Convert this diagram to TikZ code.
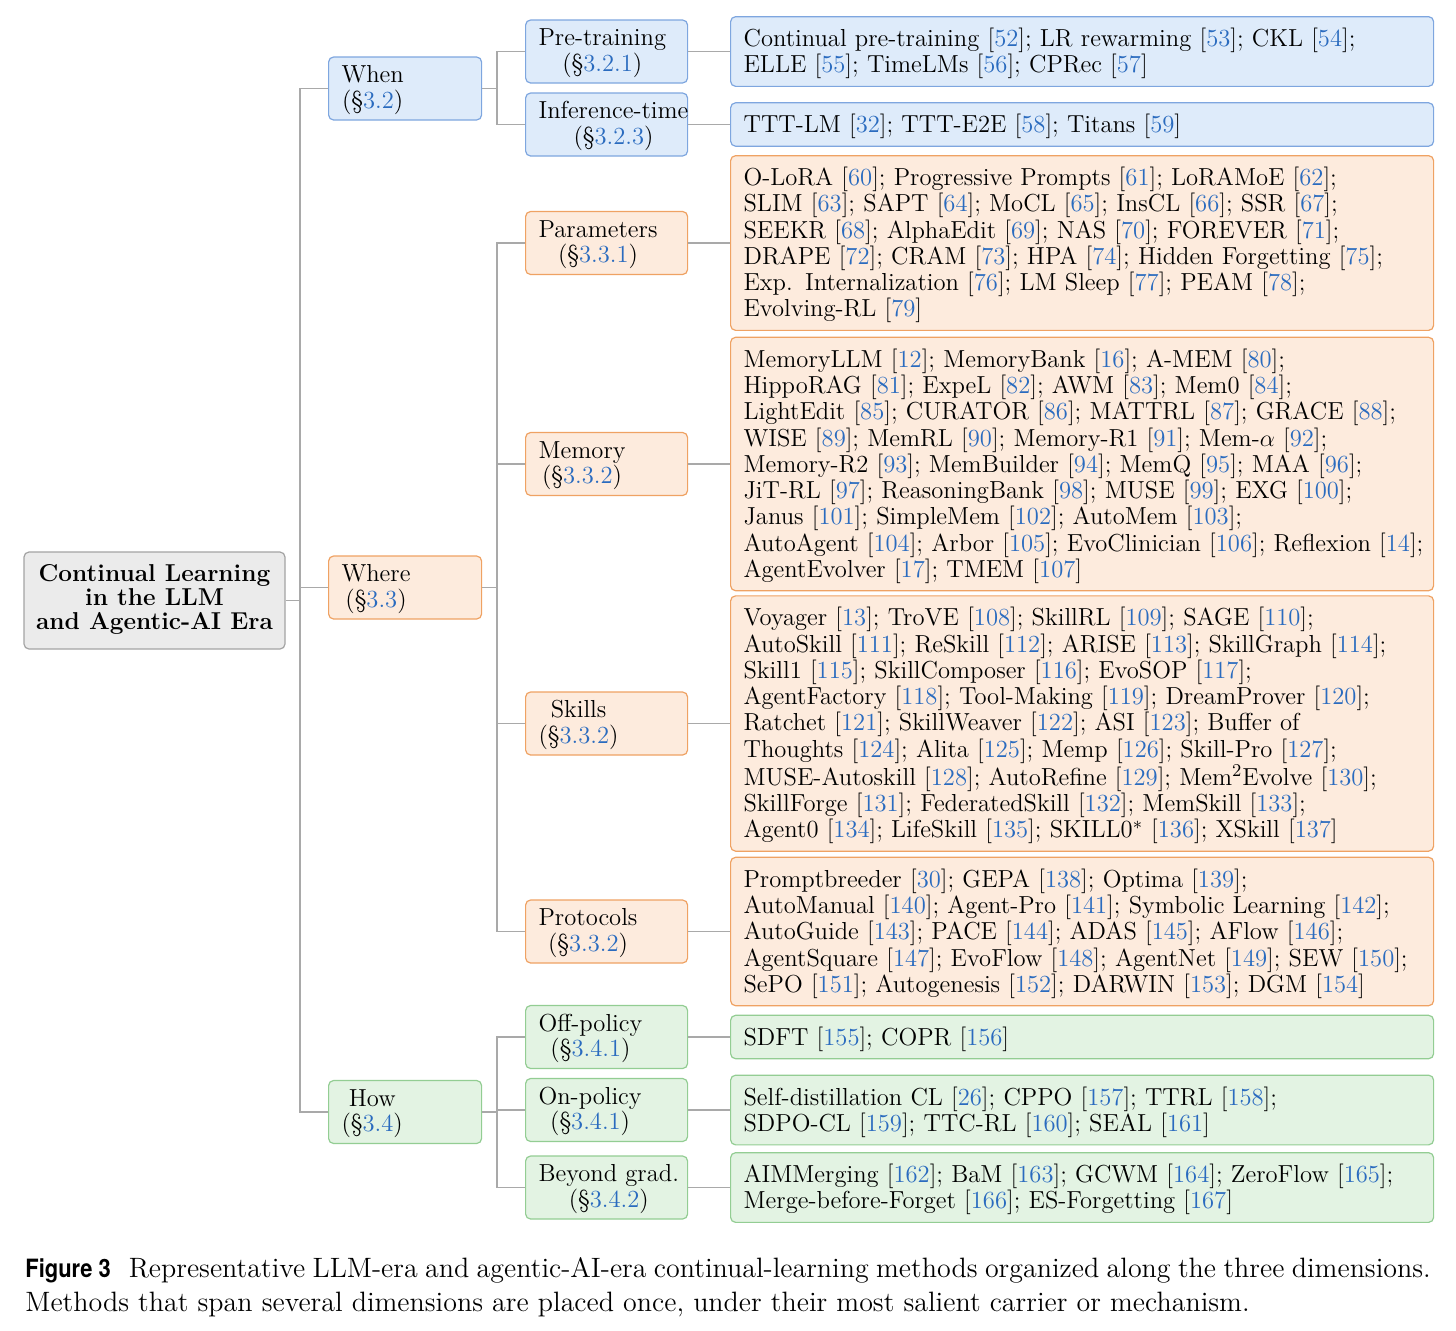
\documentclass[tikz,border=0pt]{standalone}
\usepackage{fontspec}
\newfontfamily\capsans{TeX Gyre Heros}
\definecolor{citeblue}{HTML}{2A6BBF}
\definecolor{bluefill}{HTML}{DEEBFA}
\definecolor{bluedraw}{HTML}{7EA6DF}
\definecolor{orangefill}{HTML}{FDEBDD}
\definecolor{orangedraw}{HTML}{EFA263}
\definecolor{greenfill}{HTML}{E3F3E3}
\definecolor{greendraw}{HTML}{93CD93}
\definecolor{rootfill}{HTML}{EBEBEB}
\definecolor{rootdraw}{HTML}{A3A3A3}
\definecolor{linecol}{HTML}{A9A9A9}
\newcommand{\rf}[1]{[\textcolor{citeblue}{#1}]}
\newcommand{\sr}[1]{(\S\textcolor{citeblue}{#1})}
\newcommand{\ctab}[1]{\raisebox{-1pt}[\height][\depth]{\renewcommand{\arraystretch}{0.92}\begin{tabular}{@{}c@{}}#1\end{tabular}}}
\newcommand{\ltab}[1]{\raisebox{-1.5pt}[\height][\depth]{\renewcommand{\arraystretch}{1}\begin{tabular}{@{}l@{}}#1\end{tabular}}}
\tikzset{
  box/.style={draw, rounded corners=2.5pt, line width=0.6pt, font=\fontsize{12.3}{13}\selectfont},
  rootbox/.style={box, draw=rootdraw, fill=rootfill, minimum width=130.5pt, minimum height=48.5pt, align=center, inner sep=2pt, font=\fontsize{12.2}{12}\selectfont\bfseries},
  lone/.style={box, minimum height=31.5pt, text width=63.5pt, inner xsep=6.5pt, inner ysep=1pt, align=left},
  ltwo/.style={box, minimum height=31.5pt, text width=68pt, inner xsep=6.5pt, inner ysep=1pt, align=left},
  leaf/.style={box, text width=338.5pt, inner xsep=6.5pt, inner ysep=4.3pt, align=left},
  cblue/.style={draw=bluedraw, fill=bluefill},
  corange/.style={draw=orangedraw, fill=orangefill},
  cgreen/.style={draw=greendraw, fill=greenfill},
  conn/.style={draw=linecol, line width=0.7pt},
  captext/.style={inner sep=0pt, anchor=base west, font=\fontsize{14}{17}\selectfont}
}
\begin{document}
\begin{tikzpicture}[x=0.5pt,y=-0.5pt]
\useasboundingbox (0,0) rectangle (1456,1330);

% root
\node[rootbox] (root) at (154.5,600.5) {\begin{tabular}{@{}c@{}}Continual Learning\\ in the LLM\\ and Agentic-AI Era\end{tabular}};

% level 1
\node[lone,cblue,anchor=west] (when) at (328,88.5) {\ctab{When\\ \sr{3.2}}};
\node[lone,corange,anchor=west] (where) at (328,587.5) {\ctab{Where\\ \sr{3.3}}};
\node[lone,cgreen,anchor=west] (how) at (328,1112) {\ctab{How\\ \sr{3.4}}};

% level 2
\node[ltwo,cblue,anchor=west] (pre) at (525,51.5) {\ctab{Pre-training\\ \sr{3.2.1}}};
\node[ltwo,cblue,anchor=west] (inf) at (525,124.5) {\ctab{Inference-time\\ \sr{3.2.3}}};
\node[ltwo,corange,anchor=west] (par) at (525,243) {\ctab{Parameters\\ \sr{3.3.1}}};
\node[ltwo,corange,anchor=west] (mem) at (525,464) {\ctab{Memory\\ \sr{3.3.2}}};
\node[ltwo,corange,anchor=west] (ski) at (525,723.5) {\ctab{Skills\\ \sr{3.3.2}}};
\node[ltwo,corange,anchor=west] (pro) at (525,931.5) {\ctab{Protocols\\ \sr{3.3.2}}};
\node[ltwo,cgreen,anchor=west] (off) at (525,1037) {\ctab{Off-policy\\ \sr{3.4.1}}};
\node[ltwo,cgreen,anchor=west] (onp) at (525,1110) {\ctab{On-policy\\ \sr{3.4.1}}};
\node[ltwo,cgreen,anchor=west] (bey) at (525,1187.5) {\ctab{Beyond grad.\\ \sr{3.4.2}}};

% leaves
\node[leaf,cblue,anchor=west] (preL) at (730,51.5) {\ltab{Continual pre-training \rf{52}; LR rewarming \rf{53}; CKL \rf{54};\\
ELLE \rf{55}; TimeLMs \rf{56}; CPRec \rf{57}}};
\node[leaf,cblue,anchor=west] (infL) at (730,124.5) {\ltab{TTT-LM \rf{32}; TTT-E2E \rf{58}; Titans \rf{59}}};
\node[leaf,corange,anchor=west] (parL) at (730,243) {\ltab{O-LoRA \rf{60}; Progressive Prompts \rf{61}; LoRAMoE \rf{62};\\
SLIM \rf{63}; SAPT \rf{64}; MoCL \rf{65}; InsCL \rf{66}; SSR \rf{67};\\
SEEKR \rf{68}; AlphaEdit \rf{69}; NAS \rf{70}; FOREVER \rf{71};\\
DRAPE \rf{72}; CRAM \rf{73}; HPA \rf{74}; Hidden Forgetting \rf{75};\\
Exp. Internalization \rf{76}; LM Sleep \rf{77}; PEAM \rf{78};\\
Evolving-RL \rf{79}}};
\node[leaf,corange,anchor=west] (memL) at (730,464) {\ltab{MemoryLLM \rf{12}; MemoryBank \rf{16}; A-MEM \rf{80};\\
HippoRAG \rf{81}; ExpeL \rf{82}; AWM \rf{83}; Mem0 \rf{84};\\
LightEdit \rf{85}; CURATOR \rf{86}; MATTRL \rf{87}; GRACE \rf{88};\\
WISE \rf{89}; MemRL \rf{90}; Memory-R1 \rf{91}; Mem-$\alpha$ \rf{92};\\
Memory-R2 \rf{93}; MemBuilder \rf{94}; MemQ \rf{95}; MAA \rf{96};\\
JiT-RL \rf{97}; ReasoningBank \rf{98}; MUSE \rf{99}; EXG \rf{100};\\
Janus \rf{101}; SimpleMem \rf{102}; AutoMem \rf{103};\\
AutoAgent \rf{104}; Arbor \rf{105}; EvoClinician \rf{106}; Reflexion \rf{14};\\
AgentEvolver \rf{17}; TMEM \rf{107}}};
\node[leaf,corange,anchor=west] (skiL) at (730,723.5) {\ltab{Voyager \rf{13}; TroVE \rf{108}; SkillRL \rf{109}; SAGE \rf{110};\\
AutoSkill \rf{111}; ReSkill \rf{112}; ARISE \rf{113}; SkillGraph \rf{114};\\
Skill1 \rf{115}; SkillComposer \rf{116}; EvoSOP \rf{117};\\
AgentFactory \rf{118}; Tool-Making \rf{119}; DreamProver \rf{120};\\
Ratchet \rf{121}; SkillWeaver \rf{122}; ASI \rf{123}; Buffer of\\
Thoughts \rf{124}; Alita \rf{125}; Memp \rf{126}; Skill-Pro \rf{127};\\
MUSE-Autoskill \rf{128}; AutoRefine \rf{129}; Mem$^2$Evolve \rf{130};\\
SkillForge \rf{131}; FederatedSkill \rf{132}; MemSkill \rf{133};\\
Agent0 \rf{134}; LifeSkill \rf{135}; SKILL0$^*$ \rf{136}; XSkill \rf{137}}};
\node[leaf,corange,anchor=west] (proL) at (730,931.5) {\ltab{Promptbreeder \rf{30}; GEPA \rf{138}; Optima \rf{139};\\
AutoManual \rf{140}; Agent-Pro \rf{141}; Symbolic Learning \rf{142};\\
AutoGuide \rf{143}; PACE \rf{144}; ADAS \rf{145}; AFlow \rf{146};\\
AgentSquare \rf{147}; EvoFlow \rf{148}; AgentNet \rf{149}; SEW \rf{150};\\
SePO \rf{151}; Autogenesis \rf{152}; DARWIN \rf{153}; DGM \rf{154}}};
\node[leaf,cgreen,anchor=west] (offL) at (730,1037) {\ltab{SDFT \rf{155}; COPR \rf{156}}};
\node[leaf,cgreen,anchor=west] (onpL) at (730,1110) {\ltab{Self-distillation CL \rf{26}; CPPO \rf{157}; TTRL \rf{158};\\
SDPO-CL \rf{159}; TTC-RL \rf{160}; SEAL \rf{161}}};
\node[leaf,cgreen,anchor=west] (beyL) at (730,1187.5) {\ltab{AIMMerging \rf{162}; BaM \rf{163}; GCWM \rf{164}; ZeroFlow \rf{165};\\
Merge-before-Forget \rf{166}; ES-Forgetting \rf{167}}};

% connectors
\coordinate (j0) at (300,600.5);
\coordinate (j1) at (497,88.5);
\coordinate (j2) at (497,587.5);
\coordinate (j3) at (497,1112);
\draw[conn] (root.east) -- (j0);
\draw[conn] (j0) |- (when.west);
\draw[conn] (j0) |- (where.west);
\draw[conn] (j0) |- (how.west);
\draw[conn] (when.east) -- (j1);
\draw[conn] (j1) |- (pre.west);
\draw[conn] (j1) |- (inf.west);
\draw[conn] (where.east) -- (j2);
\draw[conn] (j2) |- (par.west);
\draw[conn] (j2) |- (mem.west);
\draw[conn] (j2) |- (ski.west);
\draw[conn] (j2) |- (pro.west);
\draw[conn] (how.east) -- (j3);
\draw[conn] (j3) |- (off.west);
\draw[conn] (j3) |- (onp.west);
\draw[conn] (j3) |- (bey.west);
\foreach \a in {pre,inf,par,mem,ski,pro,off,onp,bey}
  \draw[conn] (\a.east) -- (\a L.west);

% caption
\node[captext] (cap1) at (25,1277) {\scalebox{0.87}[1]{\capsans\bfseries\fontsize{12.6}{17}\selectfont Figure 3}\hspace{9pt}\makebox[651pt][s]{Representative LLM-era and agentic-AI-era continual-learning methods organized along the three dimensions.}};
\node[captext] (cap2) at (25,1311) {Methods that span several dimensions are placed once, under their most salient carrier or mechanism.};
\end{tikzpicture}
\end{document}
